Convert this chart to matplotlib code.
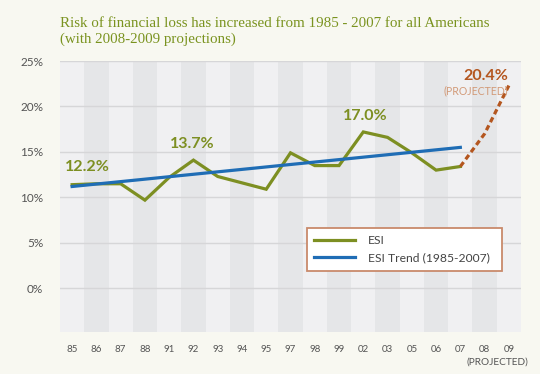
import matplotlib
matplotlib.use("Agg")
import matplotlib.pyplot as plt
from matplotlib.lines import Line2D

# Categories (two-digit years as printed on the axis)
years = ["85", "86", "87", "88", "91", "92", "93", "94", "95", "97",
         "98", "99", "02", "03", "05", "06", "07", "08", "09"]

# ESI values (%), 1985-2007
esi = [11.4, 11.5, 11.5, 9.7, 12.2, 14.1, 12.3, 11.6, 10.9, 14.9,
       13.5, 13.5, 17.2, 16.6, 14.9, 13.0, 13.4]

# Linear trend end points 1985 -> 2007
trend_years = ["85", "07"]
trend_vals = [11.2, 15.5]

# Projection 2007 -> 2009
proj_years = ["07", "08", "09"]
proj_vals = [13.4, 17.0, 22.3]

yticks = [0, 5, 10, 15, 20, 25]

GREEN = "#7d8f22"
BLUE = "#1f6db5"
RUST = "#b4561f"
BG = "#f8f8f1"

fig = plt.figure(figsize=(5.4, 3.74), dpi=100, facecolor=BG)
ax = fig.add_axes([60 / 540, 1 - 332 / 374, 461 / 540, 271 / 374])
ax.set_facecolor("#f0f0f2")

idx = {y: i for i, y in enumerate(years)}

# alternating column bands
for i in range(len(years)):
    if i % 2 == 1:
        ax.axvspan(i - 0.5, i + 0.5, color="#e5e6e8", lw=0, zorder=0)

for v in yticks:
    ax.axhline(v, color="#d6d6d8", lw=1.0, zorder=1)

ax.plot(range(len(esi)), esi, color=GREEN, lw=2.3, zorder=3,
        solid_joinstyle="miter")
ax.plot([idx[y] for y in trend_years], trend_vals, color=BLUE, lw=2.3, zorder=4)
ax.plot([idx[y] for y in proj_years], proj_vals, color=RUST, lw=2.3,
        ls=(0, (1.7, 1.1)), zorder=3)

ax.set_xlim(-0.5, len(years) - 0.5)
ax.set_ylim(-4.8, 25)
ax.set_xticks(range(len(years)))
ax.set_xticklabels(years, fontsize=7, color="#555555", family="Lato")
ax.set_yticks(yticks)
ax.set_yticklabels([f"{v}%" for v in yticks], fontsize=8.5, color="#555555",
                   family="Lato")
ax.tick_params(axis="both", length=0)
ax.tick_params(axis="x", pad=9)
ax.tick_params(axis="y", pad=12)
for s in ax.spines.values():
    s.set_visible(False)

# annotations
ax.text(0.63, 13.3, "12.2%", color=GREEN, fontsize=11.5, weight="bold",
        family="Lato", ha="center", va="center")
ax.text(4.96, 15.9, "13.7%", color=GREEN, fontsize=11.5, weight="bold",
        family="Lato", ha="center", va="center")
ax.text(12.09, 18.95, "17.0%", color=GREEN, fontsize=11.5, weight="bold",
        family="Lato", ha="center", va="center")
ax.text(17.98, 23.3, "20.4%", color=RUST, fontsize=11.5, weight="bold",
        family="Lato", ha="right", va="center")
ax.text(17.98, 21.75, "(PROJECTED)", color="#d29a78", fontsize=7.6,
        family="Lato", ha="right", va="center")

fig.text(497 / 540, 1 - 362 / 374, "(PROJECTED)", color="#555555",
         fontsize=7.3, family="Lato", ha="center", va="center")

# title
fig.text(60 / 540, 1 - 17 / 374,
         "Risk of financial loss has increased from 1985 - 2007 for all Americans\n"
         "(with 2008-2009 projections)",
         color="#7a931f", fontsize=10.8, family="Liberation Serif",
         ha="left", va="top", linespacing=1.2)

handles = [Line2D([], [], color=GREEN, lw=2.3),
           Line2D([], [], color=BLUE, lw=2.3)]
leg = ax.legend(handles, ["ESI", "ESI Trend (1985-2007)"],
                loc="upper left", bbox_to_anchor=(0.535, 0.217, 0.423, 0.166),
                mode="expand", borderaxespad=0, fancybox=False,
                frameon=True, handlelength=3.4, handletextpad=1.1,
                borderpad=0.6, labelspacing=0.5,
                prop={"family": "Lato", "size": 8.7})
leg.get_frame().set_edgecolor("#c98a6b")
leg.get_frame().set_linewidth(1.3)
leg.get_frame().set_facecolor("white")
leg.get_frame().set_alpha(1)
for t in leg.get_texts():
    t.set_color("#444444")

fig.savefig("out.png", dpi=100, facecolor=BG)
